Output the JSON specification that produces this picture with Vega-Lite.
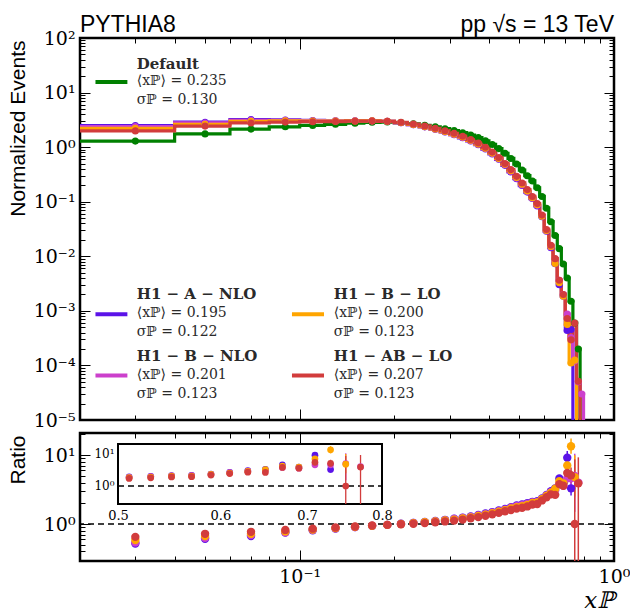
{
"$schema": "https://vega.github.io/schema/vega-lite/v6.json",
"padding": {"left": 5, "top": 12, "right": 5, "bottom": 2},
"spacing": 13,
"bounds": "flush",
"config": {
  "view": {"stroke": "black", "strokeWidth": 2.5},
  "axis": {"grid": false, "domain": false, "tickColor": "black", "tickWidth": 1, "labelFont": "DejaVu Serif", "labelFontSize": 19, "labelColor": "black", "labelFlush": false, "labelOverlap": false, "titleFont": "Liberation Sans", "titleFontSize": 21, "titleFontWeight": "normal", "titleColor": "black", "zindex": 1}
},
"datasets": {
"main": [
{"s":"Default","lo":0.02,"c":0.03,"v":1.29},{"s":"Default","lo":0.04,"c":0.05,"v":1.75},{"s":"Default","lo":0.06,"c":0.07,"v":2.14},{"s":"Default","lo":0.08,"c":0.09,"v":2.36},{"s":"Default","lo":0.10,"c":0.11,"v":2.50},{"s":"Default","lo":0.12,"c":0.13,"v":2.62},{"s":"Default","lo":0.14,"c":0.15,"v":2.75},{"s":"Default","lo":0.16,"c":0.17,"v":2.85},{"s":"Default","lo":0.18,"c":0.19,"v":2.88},{"s":"Default","lo":0.20,"c":0.21,"v":2.82},
{"s":"Default","lo":0.22,"c":0.23,"v":2.68},{"s":"Default","lo":0.24,"c":0.25,"v":2.52},{"s":"Default","lo":0.26,"c":0.27,"v":2.35},{"s":"Default","lo":0.28,"c":0.29,"v":2.18},{"s":"Default","lo":0.30,"c":0.31,"v":2.01},{"s":"Default","lo":0.32,"c":0.33,"v":1.84},{"s":"Default","lo":0.34,"c":0.35,"v":1.67},{"s":"Default","lo":0.36,"c":0.37,"v":1.50},{"s":"Default","lo":0.38,"c":0.39,"v":1.31},{"s":"Default","lo":0.40,"c":0.41,"v":1.12},
{"s":"Default","lo":0.42,"c":0.43,"v":0.94},{"s":"Default","lo":0.44,"c":0.45,"v":0.77},{"s":"Default","lo":0.46,"c":0.47,"v":0.62},{"s":"Default","lo":0.48,"c":0.49,"v":0.49},{"s":"Default","lo":0.50,"c":0.51,"v":0.38},{"s":"Default","lo":0.52,"c":0.53,"v":0.30},{"s":"Default","lo":0.54,"c":0.55,"v":0.24},{"s":"Default","lo":0.56,"c":0.57,"v":0.18},{"s":"Default","lo":0.58,"c":0.59,"v":0.125},{"s":"Default","lo":0.60,"c":0.61,"v":0.076},
{"s":"Default","lo":0.62,"c":0.63,"v":0.043},{"s":"Default","lo":0.64,"c":0.65,"v":0.024},{"s":"Default","lo":0.66,"c":0.67,"v":0.0138},{"s":"Default","lo":0.68,"c":0.69,"v":0.0072},{"s":"Default","lo":0.70,"c":0.71,"v":0.0040},{"s":"Default","lo":0.72,"c":0.73,"v":0.0015},{"s":"Default","lo":0.74,"c":0.75,"v":0.0006},{"s":"Default","lo":0.76,"c":0.77,"v":0.0002},{"s":"Default","lo":0.78,"c":null,"v":0.00001},

{"s":"H1-A-NLO","lo":0.02,"c":0.03,"v":2.481},{"s":"H1-A-NLO","lo":0.04,"c":0.05,"v":2.869},{"s":"H1-A-NLO","lo":0.06,"c":0.07,"v":3.194},{"s":"H1-A-NLO","lo":0.08,"c":0.09,"v":3.147},{"s":"H1-A-NLO","lo":0.10,"c":0.11,"v":3.086},{"s":"H1-A-NLO","lo":0.12,"c":0.13,"v":3.047},{"s":"H1-A-NLO","lo":0.14,"c":0.15,"v":3.056},{"s":"H1-A-NLO","lo":0.16,"c":0.17,"v":3.032},{"s":"H1-A-NLO","lo":0.18,"c":0.19,"v":2.969},{"s":"H1-A-NLO","lo":0.20,"c":0.21,"v":2.792},
{"s":"H1-A-NLO","lo":0.22,"c":0.23,"v":2.577},{"s":"H1-A-NLO","lo":0.24,"c":0.25,"v":2.355},{"s":"H1-A-NLO","lo":0.26,"c":0.27,"v":2.117},{"s":"H1-A-NLO","lo":0.28,"c":0.29,"v":1.896},{"s":"H1-A-NLO","lo":0.30,"c":0.31,"v":1.689},{"s":"H1-A-NLO","lo":0.32,"c":0.33,"v":1.484},{"s":"H1-A-NLO","lo":0.34,"c":0.35,"v":1.295},{"s":"H1-A-NLO","lo":0.36,"c":0.37,"v":1.111},{"s":"H1-A-NLO","lo":0.38,"c":0.39,"v":0.9225},{"s":"H1-A-NLO","lo":0.40,"c":0.41,"v":0.7517},
{"s":"H1-A-NLO","lo":0.42,"c":0.43,"v":0.5987},{"s":"H1-A-NLO","lo":0.44,"c":0.45,"v":0.4639},{"s":"H1-A-NLO","lo":0.46,"c":0.47,"v":0.3523},{"s":"H1-A-NLO","lo":0.48,"c":0.49,"v":0.2634},{"s":"H1-A-NLO","lo":0.50,"c":0.51,"v":0.1979},{"s":"H1-A-NLO","lo":0.52,"c":0.53,"v":0.15},{"s":"H1-A-NLO","lo":0.54,"c":0.55,"v":0.1143},{"s":"H1-A-NLO","lo":0.56,"c":0.57,"v":0.0837},{"s":"H1-A-NLO","lo":0.58,"c":0.59,"v":0.0532},{"s":"H1-A-NLO","lo":0.60,"c":0.61,"v":0.02868},
{"s":"H1-A-NLO","lo":0.62,"c":0.63,"v":0.01433},{"s":"H1-A-NLO","lo":0.64,"c":0.65,"v":0.007273},{"s":"H1-A-NLO","lo":0.66,"c":0.67,"v":0.003},{"s":"H1-A-NLO","lo":0.68,"c":0.69,"v":0.001846},{"s":"H1-A-NLO","lo":0.70,"c":0.71,"v":0.000435},{"s":"H1-A-NLO","lo":0.72,"c":0.73,"v":0.000455},{"s":"H1-A-NLO","lo":0.74,"c":null,"v":0.00001},

{"s":"H1-B-NLO","lo":0.02,"c":0.03,"v":2.389},{"s":"H1-B-NLO","lo":0.04,"c":0.05,"v":2.778},{"s":"H1-B-NLO","lo":0.06,"c":0.07,"v":3.101},{"s":"H1-B-NLO","lo":0.08,"c":0.09,"v":3.105},{"s":"H1-B-NLO","lo":0.10,"c":0.11,"v":3.049},{"s":"H1-B-NLO","lo":0.12,"c":0.13,"v":3.029},{"s":"H1-B-NLO","lo":0.14,"c":0.15,"v":3.039},{"s":"H1-B-NLO","lo":0.16,"c":0.17,"v":3.032},{"s":"H1-B-NLO","lo":0.18,"c":0.19,"v":2.969},{"s":"H1-B-NLO","lo":0.20,"c":0.21,"v":2.806},
{"s":"H1-B-NLO","lo":0.22,"c":0.23,"v":2.589},{"s":"H1-B-NLO","lo":0.24,"c":0.25,"v":2.366},{"s":"H1-B-NLO","lo":0.26,"c":0.27,"v":2.136},{"s":"H1-B-NLO","lo":0.28,"c":0.29,"v":1.912},{"s":"H1-B-NLO","lo":0.30,"c":0.31,"v":1.703},{"s":"H1-B-NLO","lo":0.32,"c":0.33,"v":1.508},{"s":"H1-B-NLO","lo":0.34,"c":0.35,"v":1.315},{"s":"H1-B-NLO","lo":0.36,"c":0.37,"v":1.128},{"s":"H1-B-NLO","lo":0.38,"c":0.39,"v":0.9424},{"s":"H1-B-NLO","lo":0.40,"c":0.41,"v":0.7671},
{"s":"H1-B-NLO","lo":0.42,"c":0.43,"v":0.6104},{"s":"H1-B-NLO","lo":0.44,"c":0.45,"v":0.4753},{"s":"H1-B-NLO","lo":0.46,"c":0.47,"v":0.3605},{"s":"H1-B-NLO","lo":0.48,"c":0.49,"v":0.2707},{"s":"H1-B-NLO","lo":0.50,"c":0.51,"v":0.2032},{"s":"H1-B-NLO","lo":0.52,"c":0.53,"v":0.1538},{"s":"H1-B-NLO","lo":0.54,"c":0.55,"v":0.1165},{"s":"H1-B-NLO","lo":0.56,"c":0.57,"v":0.0857},{"s":"H1-B-NLO","lo":0.58,"c":0.59,"v":0.05435},{"s":"H1-B-NLO","lo":0.60,"c":0.61,"v":0.02923},
{"s":"H1-B-NLO","lo":0.62,"c":0.63,"v":0.01483},{"s":"H1-B-NLO","lo":0.64,"c":0.65,"v":0.007742},{"s":"H1-B-NLO","lo":0.66,"c":0.67,"v":0.003632},{"s":"H1-B-NLO","lo":0.68,"c":0.69,"v":0.002},{"s":"H1-B-NLO","lo":0.70,"c":0.71,"v":0.00087},{"s":"H1-B-NLO","lo":0.72,"c":0.73,"v":0.000326},{"s":"H1-B-NLO","lo":0.74,"c":0.75,"v":0.00012},{"s":"H1-B-NLO","lo":0.76,"c":0.77,"v":0.00005},{"s":"H1-B-NLO","lo":0.78,"c":0.79,"v":0.00003},{"s":"H1-B-NLO","lo":0.80,"c":null,"v":0.00001},

{"s":"H1-B-LO","lo":0.02,"c":0.03,"v":2.205},{"s":"H1-B-LO","lo":0.04,"c":0.05,"v":2.612},{"s":"H1-B-LO","lo":0.06,"c":0.07,"v":2.972},{"s":"H1-B-LO","lo":0.08,"c":0.09,"v":3.026},{"s":"H1-B-LO","lo":0.10,"c":0.11,"v":3.012},{"s":"H1-B-LO","lo":0.12,"c":0.13,"v":3.011},{"s":"H1-B-LO","lo":0.14,"c":0.15,"v":3.022},{"s":"H1-B-LO","lo":0.16,"c":0.17,"v":3.032},{"s":"H1-B-LO","lo":0.18,"c":0.19,"v":2.969},{"s":"H1-B-LO","lo":0.20,"c":0.21,"v":2.82},
{"s":"H1-B-LO","lo":0.22,"c":0.23,"v":2.602},{"s":"H1-B-LO","lo":0.24,"c":0.25,"v":2.377},{"s":"H1-B-LO","lo":0.26,"c":0.27,"v":2.156},{"s":"H1-B-LO","lo":0.28,"c":0.29,"v":1.929},{"s":"H1-B-LO","lo":0.30,"c":0.31,"v":1.733},{"s":"H1-B-LO","lo":0.32,"c":0.33,"v":1.533},{"s":"H1-B-LO","lo":0.34,"c":0.35,"v":1.336},{"s":"H1-B-LO","lo":0.36,"c":0.37,"v":1.145},{"s":"H1-B-LO","lo":0.38,"c":0.39,"v":0.9562},{"s":"H1-B-LO","lo":0.40,"c":0.41,"v":0.7778},
{"s":"H1-B-LO","lo":0.42,"c":0.43,"v":0.6225},{"s":"H1-B-LO","lo":0.44,"c":0.45,"v":0.4843},{"s":"H1-B-LO","lo":0.46,"c":0.47,"v":0.369},{"s":"H1-B-LO","lo":0.48,"c":0.49,"v":0.2784},{"s":"H1-B-LO","lo":0.50,"c":0.51,"v":0.2088},{"s":"H1-B-LO","lo":0.52,"c":0.53,"v":0.1579},{"s":"H1-B-LO","lo":0.54,"c":0.55,"v":0.1188},{"s":"H1-B-LO","lo":0.56,"c":0.57,"v":0.0878},{"s":"H1-B-LO","lo":0.58,"c":0.59,"v":0.05435},{"s":"H1-B-LO","lo":0.60,"c":0.61,"v":0.0298},
{"s":"H1-B-LO","lo":0.62,"c":0.63,"v":0.01509},{"s":"H1-B-LO","lo":0.64,"c":0.65,"v":0.007385},{"s":"H1-B-LO","lo":0.66,"c":0.67,"v":0.003286},{"s":"H1-B-LO","lo":0.68,"c":0.69,"v":0.001846},{"s":"H1-B-LO","lo":0.70,"c":0.71,"v":0.000563},{"s":"H1-B-LO","lo":0.72,"c":0.73,"v":0.000111},{"s":"H1-B-LO","lo":0.74,"c":0.75,"v":0.000125},{"s":"H1-B-LO","lo":0.76,"c":null,"v":0.00001},

{"s":"H1-AB-LO","lo":0.02,"c":0.03,"v":1.985},{"s":"H1-AB-LO","lo":0.04,"c":0.05,"v":2.431},{"s":"H1-AB-LO","lo":0.06,"c":0.07,"v":2.779},{"s":"H1-AB-LO","lo":0.08,"c":0.09,"v":2.878},{"s":"H1-AB-LO","lo":0.10,"c":0.11,"v":2.924},{"s":"H1-AB-LO","lo":0.12,"c":0.13,"v":2.944},{"s":"H1-AB-LO","lo":0.14,"c":0.15,"v":2.989},{"s":"H1-AB-LO","lo":0.16,"c":0.17,"v":3.0},{"s":"H1-AB-LO","lo":0.18,"c":0.19,"v":2.969},{"s":"H1-AB-LO","lo":0.20,"c":0.21,"v":2.848},
{"s":"H1-AB-LO","lo":0.22,"c":0.23,"v":2.653},{"s":"H1-AB-LO","lo":0.24,"c":0.25,"v":2.447},{"s":"H1-AB-LO","lo":0.26,"c":0.27,"v":2.217},{"s":"H1-AB-LO","lo":0.28,"c":0.29,"v":2.0},{"s":"H1-AB-LO","lo":0.30,"c":0.31,"v":1.795},{"s":"H1-AB-LO","lo":0.32,"c":0.33,"v":1.586},{"s":"H1-AB-LO","lo":0.34,"c":0.35,"v":1.38},{"s":"H1-AB-LO","lo":0.36,"c":0.37,"v":1.19},{"s":"H1-AB-LO","lo":0.38,"c":0.39,"v":0.9924},{"s":"H1-AB-LO","lo":0.40,"c":0.41,"v":0.8116},
{"s":"H1-AB-LO","lo":0.42,"c":0.43,"v":0.6483},{"s":"H1-AB-LO","lo":0.44,"c":0.45,"v":0.5033},{"s":"H1-AB-LO","lo":0.46,"c":0.47,"v":0.3875},{"s":"H1-AB-LO","lo":0.48,"c":0.49,"v":0.2917},{"s":"H1-AB-LO","lo":0.50,"c":0.51,"v":0.2209},{"s":"H1-AB-LO","lo":0.52,"c":0.53,"v":0.1667},{"s":"H1-AB-LO","lo":0.54,"c":0.55,"v":0.125},{"s":"H1-AB-LO","lo":0.56,"c":0.57,"v":0.0923},{"s":"H1-AB-LO","lo":0.58,"c":0.59,"v":0.05682},{"s":"H1-AB-LO","lo":0.60,"c":0.61,"v":0.03102},
{"s":"H1-AB-LO","lo":0.62,"c":0.63,"v":0.01593},{"s":"H1-AB-LO","lo":0.64,"c":0.65,"v":0.009057},{"s":"H1-AB-LO","lo":0.66,"c":0.67,"v":0.003632},{"s":"H1-AB-LO","lo":0.68,"c":0.69,"v":0.002},{"s":"H1-AB-LO","lo":0.70,"c":0.71,"v":0.000727},{"s":"H1-AB-LO","lo":0.72,"c":0.73,"v":0.000294},{"s":"H1-AB-LO","lo":0.74,"c":0.75,"v":0.0006},{"s":"H1-AB-LO","lo":0.76,"c":0.77,"v":0.0000513},{"s":"H1-AB-LO","lo":0.78,"c":null,"v":0.00001}
],
"ratio": [
{"s":"H1-A-NLO","c":0.03,"r":0.52},{"s":"H1-A-NLO","c":0.05,"r":0.61},{"s":"H1-A-NLO","c":0.07,"r":0.67},{"s":"H1-A-NLO","c":0.09,"r":0.75},{"s":"H1-A-NLO","c":0.11,"r":0.81},{"s":"H1-A-NLO","c":0.13,"r":0.86},{"s":"H1-A-NLO","c":0.15,"r":0.90},{"s":"H1-A-NLO","c":0.17,"r":0.94},{"s":"H1-A-NLO","c":0.19,"r":0.97},{"s":"H1-A-NLO","c":0.21,"r":1.01},
{"s":"H1-A-NLO","c":0.23,"r":1.04},{"s":"H1-A-NLO","c":0.25,"r":1.07},{"s":"H1-A-NLO","c":0.27,"r":1.11},{"s":"H1-A-NLO","c":0.29,"r":1.15},{"s":"H1-A-NLO","c":0.31,"r":1.19},{"s":"H1-A-NLO","c":0.33,"r":1.24},{"s":"H1-A-NLO","c":0.35,"r":1.29},{"s":"H1-A-NLO","c":0.37,"r":1.35},{"s":"H1-A-NLO","c":0.39,"r":1.42},{"s":"H1-A-NLO","c":0.41,"r":1.49},
{"s":"H1-A-NLO","c":0.43,"r":1.57},{"s":"H1-A-NLO","c":0.45,"r":1.66},{"s":"H1-A-NLO","c":0.47,"r":1.76},{"s":"H1-A-NLO","c":0.49,"r":1.86},{"s":"H1-A-NLO","c":0.51,"r":1.92},{"s":"H1-A-NLO","c":0.53,"r":2.0},{"s":"H1-A-NLO","c":0.55,"r":2.1},{"s":"H1-A-NLO","c":0.57,"r":2.15},{"s":"H1-A-NLO","c":0.59,"r":2.35},{"s":"H1-A-NLO","c":0.61,"r":2.65},
{"s":"H1-A-NLO","c":0.63,"r":3.0},{"s":"H1-A-NLO","c":0.65,"r":3.3},{"s":"H1-A-NLO","c":0.67,"r":4.6},{"s":"H1-A-NLO","c":0.69,"r":3.9},{"s":"H1-A-NLO","c":0.71,"r":9.2},{"s":"H1-A-NLO","c":0.73,"r":3.3},

{"s":"H1-B-NLO","c":0.03,"r":0.54},{"s":"H1-B-NLO","c":0.05,"r":0.63},{"s":"H1-B-NLO","c":0.07,"r":0.69},{"s":"H1-B-NLO","c":0.09,"r":0.76},{"s":"H1-B-NLO","c":0.11,"r":0.82},{"s":"H1-B-NLO","c":0.13,"r":0.865},{"s":"H1-B-NLO","c":0.15,"r":0.905},{"s":"H1-B-NLO","c":0.17,"r":0.94},{"s":"H1-B-NLO","c":0.19,"r":0.97},{"s":"H1-B-NLO","c":0.21,"r":1.005},
{"s":"H1-B-NLO","c":0.23,"r":1.035},{"s":"H1-B-NLO","c":0.25,"r":1.065},{"s":"H1-B-NLO","c":0.27,"r":1.10},{"s":"H1-B-NLO","c":0.29,"r":1.14},{"s":"H1-B-NLO","c":0.31,"r":1.18},{"s":"H1-B-NLO","c":0.33,"r":1.22},{"s":"H1-B-NLO","c":0.35,"r":1.27},{"s":"H1-B-NLO","c":0.37,"r":1.33},{"s":"H1-B-NLO","c":0.39,"r":1.39},{"s":"H1-B-NLO","c":0.41,"r":1.46},
{"s":"H1-B-NLO","c":0.43,"r":1.54},{"s":"H1-B-NLO","c":0.45,"r":1.62},{"s":"H1-B-NLO","c":0.47,"r":1.72},{"s":"H1-B-NLO","c":0.49,"r":1.81},{"s":"H1-B-NLO","c":0.51,"r":1.87},{"s":"H1-B-NLO","c":0.53,"r":1.95},{"s":"H1-B-NLO","c":0.55,"r":2.06},{"s":"H1-B-NLO","c":0.57,"r":2.1},{"s":"H1-B-NLO","c":0.59,"r":2.3},{"s":"H1-B-NLO","c":0.61,"r":2.6},
{"s":"H1-B-NLO","c":0.63,"r":2.9},{"s":"H1-B-NLO","c":0.65,"r":3.1},{"s":"H1-B-NLO","c":0.67,"r":3.8},{"s":"H1-B-NLO","c":0.69,"r":3.6},{"s":"H1-B-NLO","c":0.71,"r":4.6},{"s":"H1-B-NLO","c":0.73,"r":4.6},{"s":"H1-B-NLO","c":0.75,"r":5.0},{"s":"H1-B-NLO","c":0.77,"r":4.0},

{"s":"H1-B-LO","c":0.03,"r":0.585},{"s":"H1-B-LO","c":0.05,"r":0.67},{"s":"H1-B-LO","c":0.07,"r":0.72},{"s":"H1-B-LO","c":0.09,"r":0.78},{"s":"H1-B-LO","c":0.11,"r":0.83},{"s":"H1-B-LO","c":0.13,"r":0.87},{"s":"H1-B-LO","c":0.15,"r":0.91},{"s":"H1-B-LO","c":0.17,"r":0.94},{"s":"H1-B-LO","c":0.19,"r":0.97},{"s":"H1-B-LO","c":0.21,"r":1.0},
{"s":"H1-B-LO","c":0.23,"r":1.03},{"s":"H1-B-LO","c":0.25,"r":1.06},{"s":"H1-B-LO","c":0.27,"r":1.09},{"s":"H1-B-LO","c":0.29,"r":1.13},{"s":"H1-B-LO","c":0.31,"r":1.16},{"s":"H1-B-LO","c":0.33,"r":1.20},{"s":"H1-B-LO","c":0.35,"r":1.25},{"s":"H1-B-LO","c":0.37,"r":1.31},{"s":"H1-B-LO","c":0.39,"r":1.37},{"s":"H1-B-LO","c":0.41,"r":1.44},
{"s":"H1-B-LO","c":0.43,"r":1.51},{"s":"H1-B-LO","c":0.45,"r":1.59},{"s":"H1-B-LO","c":0.47,"r":1.68},{"s":"H1-B-LO","c":0.49,"r":1.76},{"s":"H1-B-LO","c":0.51,"r":1.82},{"s":"H1-B-LO","c":0.53,"r":1.9},{"s":"H1-B-LO","c":0.55,"r":2.02},{"s":"H1-B-LO","c":0.57,"r":2.05},{"s":"H1-B-LO","c":0.59,"r":2.3},{"s":"H1-B-LO","c":0.61,"r":2.55},
{"s":"H1-B-LO","c":0.63,"r":2.85},{"s":"H1-B-LO","c":0.65,"r":3.25},{"s":"H1-B-LO","c":0.67,"r":4.2},{"s":"H1-B-LO","c":0.69,"r":3.9},{"s":"H1-B-LO","c":0.71,"r":7.1},{"s":"H1-B-LO","c":0.73,"r":13.5},{"s":"H1-B-LO","c":0.75,"r":4.8},

{"s":"H1-AB-LO","c":0.03,"r":0.65},{"s":"H1-AB-LO","c":0.05,"r":0.72},{"s":"H1-AB-LO","c":0.07,"r":0.77},{"s":"H1-AB-LO","c":0.09,"r":0.82},{"s":"H1-AB-LO","c":0.11,"r":0.855},{"s":"H1-AB-LO","c":0.13,"r":0.89},{"s":"H1-AB-LO","c":0.15,"r":0.92},{"s":"H1-AB-LO","c":0.17,"r":0.95},{"s":"H1-AB-LO","c":0.19,"r":0.97},{"s":"H1-AB-LO","c":0.21,"r":0.99},
{"s":"H1-AB-LO","c":0.23,"r":1.01},{"s":"H1-AB-LO","c":0.25,"r":1.03},{"s":"H1-AB-LO","c":0.27,"r":1.06},{"s":"H1-AB-LO","c":0.29,"r":1.09},{"s":"H1-AB-LO","c":0.31,"r":1.12},{"s":"H1-AB-LO","c":0.33,"r":1.16},{"s":"H1-AB-LO","c":0.35,"r":1.21},{"s":"H1-AB-LO","c":0.37,"r":1.26},{"s":"H1-AB-LO","c":0.39,"r":1.32},{"s":"H1-AB-LO","c":0.41,"r":1.38},
{"s":"H1-AB-LO","c":0.43,"r":1.45},{"s":"H1-AB-LO","c":0.45,"r":1.53},{"s":"H1-AB-LO","c":0.47,"r":1.60},{"s":"H1-AB-LO","c":0.49,"r":1.68},{"s":"H1-AB-LO","c":0.51,"r":1.72},{"s":"H1-AB-LO","c":0.53,"r":1.80},{"s":"H1-AB-LO","c":0.55,"r":1.92},{"s":"H1-AB-LO","c":0.57,"r":1.95},{"s":"H1-AB-LO","c":0.59,"r":2.2},{"s":"H1-AB-LO","c":0.61,"r":2.45},
{"s":"H1-AB-LO","c":0.63,"r":2.7},{"s":"H1-AB-LO","c":0.65,"r":2.65},{"s":"H1-AB-LO","c":0.67,"r":3.8},{"s":"H1-AB-LO","c":0.69,"r":3.6},{"s":"H1-AB-LO","c":0.71,"r":5.5},{"s":"H1-AB-LO","c":0.73,"r":5.1},{"s":"H1-AB-LO","c":0.75,"r":1.0},{"s":"H1-AB-LO","c":0.77,"r":3.9}
],
"rerr": [
{"s":"H1-A-NLO","c":0.67,"lo":4.1,"hi":5.1},{"s":"H1-A-NLO","c":0.69,"lo":3.5,"hi":4.3},{"s":"H1-A-NLO","c":0.71,"lo":7.0,"hi":11.5},{"s":"H1-A-NLO","c":0.73,"lo":2.6,"hi":4.4},
{"s":"H1-B-NLO","c":0.71,"lo":3.8,"hi":5.6},{"s":"H1-B-NLO","c":0.73,"lo":3.6,"hi":6.0},{"s":"H1-B-NLO","c":0.75,"lo":1.5,"hi":10.5},
{"s":"H1-B-LO","c":0.71,"lo":6.0,"hi":8.5},{"s":"H1-B-LO","c":0.73,"lo":10.5,"hi":17.5},{"s":"H1-B-LO","c":0.75,"lo":2.5,"hi":10.0},
{"s":"H1-AB-LO","c":0.71,"lo":4.6,"hi":6.6},{"s":"H1-AB-LO","c":0.73,"lo":4.0,"hi":6.6},{"s":"H1-AB-LO","c":0.75,"lo":0.05,"hi":8.7},{"s":"H1-AB-LO","c":0.77,"lo":0.05,"hi":9.3}
]
},
"vconcat": [
{
  "width": 534, "height": 382,
  "resolve": {"axis": {"x": "independent", "y": "independent"}},
  "layer": [
    {
      "data": {"name": "main"},
      "mark": {"type": "line", "interpolate": "step-after", "strokeWidth": 3.2},
      "encoding": {
        "x": {"field": "lo", "type": "quantitative", "scale": {"type": "log", "domain": [0.02, 1], "nice": false},
              "axis": {"orient": "bottom", "values": [0.02,0.03,0.04,0.05,0.06,0.07,0.08,0.09,0.1,0.2,0.3,0.4,0.5,0.6,0.7,0.8,0.9,1], "labels": false, "title": null,
                       "tickSize": {"condition": {"test": "abs(log(datum.value)/LN10-round(log(datum.value)/LN10))<0.000001", "value": -11}, "value": -5}}},
        "y": {"field": "v", "type": "quantitative", "scale": {"type": "log", "domain": [0.00001, 100], "nice": false},
              "axis": {"orient": "left", "values": [0.00001,0.00002,0.00003,0.00004,0.00005,0.00006,0.00007,0.00008,0.00009,0.0001,0.0002,0.0003,0.0004,0.0005,0.0006,0.0007,0.0008,0.0009,0.001,0.002,0.003,0.004,0.005,0.006,0.007,0.008,0.009,0.01,0.02,0.03,0.04,0.05,0.06,0.07,0.08,0.09,0.1,0.2,0.3,0.4,0.5,0.6,0.7,0.8,0.9,1,2,3,4,5,6,7,8,9,10,20,30,40,50,60,70,80,90,100],
                       "tickSize": {"condition": {"test": "abs(log(datum.value)/LN10-round(log(datum.value)/LN10))<0.000001", "value": -10}, "value": -5},
                       "labelExpr": "abs(log(datum.value)/LN10-round(log(datum.value)/LN10))<0.000001 ? '10' + replace(replace(replace(replace(replace(replace(replace('' + round(log(datum.value)/LN10), '-', '⁻'), '0', '⁰'), '1', '¹'), '2', '²'), '3', '³'), '4', '⁴'), '5', '⁵') : ''",
                       "labelPadding": 15,
                       "title": "Normalized Events", "titleX": -52, "titleY": 2, "titleAlign": "right", "titleBaseline": "bottom", "titleAngle": 270}},
        "color": {"field": "s", "type": "nominal", "scale": {"domain": ["Default","H1-A-NLO","H1-B-NLO","H1-B-LO","H1-AB-LO"], "range": ["#008000","#5b13e8","#cc40cc","#ffa500","#d23c3c"]}, "legend": null}
      }
    },
    {
      "data": {"name": "main"},
      "transform": [{"filter": "datum.c != null"}],
      "mark": {"type": "circle", "size": 50, "opacity": 1},
      "encoding": {
        "x": {"field": "c", "type": "quantitative", "scale": {"type": "log", "domain": [0.02, 1], "nice": false},
              "axis": {"orient": "top", "values": [0.02,0.03,0.04,0.05,0.06,0.07,0.08,0.09,0.1,0.2,0.3,0.4,0.5,0.6,0.7,0.8,0.9,1], "labels": false, "title": null,
                       "tickSize": {"condition": {"test": "abs(log(datum.value)/LN10-round(log(datum.value)/LN10))<0.000001", "value": -11}, "value": -5}}},
        "y": {"field": "v", "type": "quantitative", "scale": {"type": "log", "domain": [0.00001, 100], "nice": false},
              "axis": {"orient": "right", "values": [0.00001,0.00002,0.00003,0.00004,0.00005,0.00006,0.00007,0.00008,0.00009,0.0001,0.0002,0.0003,0.0004,0.0005,0.0006,0.0007,0.0008,0.0009,0.001,0.002,0.003,0.004,0.005,0.006,0.007,0.008,0.009,0.01,0.02,0.03,0.04,0.05,0.06,0.07,0.08,0.09,0.1,0.2,0.3,0.4,0.5,0.6,0.7,0.8,0.9,1,2,3,4,5,6,7,8,9,10,20,30,40,50,60,70,80,90,100],
                       "tickSize": {"condition": {"test": "abs(log(datum.value)/LN10-round(log(datum.value)/LN10))<0.000001", "value": -10}, "value": -5},
                       "labels": false, "title": null}},
        "color": {"field": "s", "type": "nominal", "scale": {"domain": ["Default","H1-A-NLO","H1-B-NLO","H1-B-LO","H1-AB-LO"], "range": ["#008000","#5b13e8","#cc40cc","#ffa500","#d23c3c"]}, "legend": null}
      }
    },
    {"data": {"values": [{}]}, "mark": {"type": "rule", "strokeWidth": 4, "color": "#008000"},
     "encoding": {"x": {"datum": 0.0224, "type": "quantitative", "axis": null}, "x2": {"datum": 0.0283}, "y": {"datum": 15.6, "type": "quantitative", "axis": null}}},
    {"data": {"values": [{}]}, "mark": {"type": "text", "align": "left", "baseline": "middle", "font": "DejaVu Serif", "fontSize": 15, "fontWeight": "bold", "color": "#2a2a2a"},
     "encoding": {"x": {"datum": 0.0303, "type": "quantitative", "axis": null}, "y": {"datum": 33.3, "type": "quantitative", "axis": null}, "text": {"value": "Default"}}},
    {"data": {"values": [{}]}, "mark": {"type": "text", "align": "left", "baseline": "top", "font": "DejaVu Serif", "fontSize": 14, "lineHeight": 19, "color": "#2a2a2a"},
     "encoding": {"x": {"datum": 0.0303, "type": "quantitative", "axis": null}, "y": {"datum": 21.5, "type": "quantitative", "axis": null}, "text": {"value": ["⟨xℙ⟩ = 0.235", "σℙ = 0.130"]}}},

    {"data": {"values": [{}]}, "mark": {"type": "rule", "strokeWidth": 4, "color": "#5b13e8"},
     "encoding": {"x": {"datum": 0.0224, "type": "quantitative", "axis": null}, "x2": {"datum": 0.0283}, "y": {"datum": 0.000863, "type": "quantitative", "axis": null}}},
    {"data": {"values": [{}]}, "mark": {"type": "text", "align": "left", "baseline": "middle", "font": "DejaVu Serif", "fontSize": 15, "fontWeight": "bold", "color": "#2a2a2a"},
     "encoding": {"x": {"datum": 0.0303, "type": "quantitative", "axis": null}, "y": {"datum": 0.00201, "type": "quantitative", "axis": null}, "text": {"value": "H1 − A − NLO"}}},
    {"data": {"values": [{}]}, "mark": {"type": "text", "align": "left", "baseline": "top", "font": "DejaVu Serif", "fontSize": 14, "lineHeight": 19, "color": "#2a2a2a"},
     "encoding": {"x": {"datum": 0.0303, "type": "quantitative", "axis": null}, "y": {"datum": 0.00124, "type": "quantitative", "axis": null}, "text": {"value": ["⟨xℙ⟩ = 0.195", "σℙ = 0.122"]}}},

    {"data": {"values": [{}]}, "mark": {"type": "rule", "strokeWidth": 4, "color": "#cc40cc"},
     "encoding": {"x": {"datum": 0.0224, "type": "quantitative", "axis": null}, "x2": {"datum": 0.0283}, "y": {"datum": 0.0000656, "type": "quantitative", "axis": null}}},
    {"data": {"values": [{}]}, "mark": {"type": "text", "align": "left", "baseline": "middle", "font": "DejaVu Serif", "fontSize": 15, "fontWeight": "bold", "color": "#2a2a2a"},
     "encoding": {"x": {"datum": 0.0303, "type": "quantitative", "axis": null}, "y": {"datum": 0.000152, "type": "quantitative", "axis": null}, "text": {"value": "H1 − B − NLO"}}},
    {"data": {"values": [{}]}, "mark": {"type": "text", "align": "left", "baseline": "top", "font": "DejaVu Serif", "fontSize": 14, "lineHeight": 19, "color": "#2a2a2a"},
     "encoding": {"x": {"datum": 0.0303, "type": "quantitative", "axis": null}, "y": {"datum": 0.0000905, "type": "quantitative", "axis": null}, "text": {"value": ["⟨xℙ⟩ = 0.201", "σℙ = 0.123"]}}},

    {"data": {"values": [{}]}, "mark": {"type": "rule", "strokeWidth": 4, "color": "#ffa500"},
     "encoding": {"x": {"datum": 0.0945, "type": "quantitative", "axis": null}, "x2": {"datum": 0.1195}, "y": {"datum": 0.000863, "type": "quantitative", "axis": null}}},
    {"data": {"values": [{}]}, "mark": {"type": "text", "align": "left", "baseline": "middle", "font": "DejaVu Serif", "fontSize": 15, "fontWeight": "bold", "color": "#2a2a2a"},
     "encoding": {"x": {"datum": 0.1283, "type": "quantitative", "axis": null}, "y": {"datum": 0.00201, "type": "quantitative", "axis": null}, "text": {"value": "H1 − B − LO"}}},
    {"data": {"values": [{}]}, "mark": {"type": "text", "align": "left", "baseline": "top", "font": "DejaVu Serif", "fontSize": 14, "lineHeight": 19, "color": "#2a2a2a"},
     "encoding": {"x": {"datum": 0.1283, "type": "quantitative", "axis": null}, "y": {"datum": 0.00124, "type": "quantitative", "axis": null}, "text": {"value": ["⟨xℙ⟩ = 0.200", "σℙ = 0.123"]}}},

    {"data": {"values": [{}]}, "mark": {"type": "rule", "strokeWidth": 4, "color": "#d23c3c"},
     "encoding": {"x": {"datum": 0.0945, "type": "quantitative", "axis": null}, "x2": {"datum": 0.1195}, "y": {"datum": 0.0000656, "type": "quantitative", "axis": null}}},
    {"data": {"values": [{}]}, "mark": {"type": "text", "align": "left", "baseline": "middle", "font": "DejaVu Serif", "fontSize": 15, "fontWeight": "bold", "color": "#2a2a2a"},
     "encoding": {"x": {"datum": 0.1283, "type": "quantitative", "axis": null}, "y": {"datum": 0.000152, "type": "quantitative", "axis": null}, "text": {"value": "H1 − AB − LO"}}},
    {"data": {"values": [{}]}, "mark": {"type": "text", "align": "left", "baseline": "top", "font": "DejaVu Serif", "fontSize": 14, "lineHeight": 19, "color": "#2a2a2a"},
     "encoding": {"x": {"datum": 0.1283, "type": "quantitative", "axis": null}, "y": {"datum": 0.0000905, "type": "quantitative", "axis": null}, "text": {"value": ["⟨xℙ⟩ = 0.207", "σℙ = 0.123"]}}},

    {"data": {"values": [{}]}, "mark": {"type": "text", "align": "left", "baseline": "alphabetic", "dy": -6, "font": "Liberation Sans", "fontSize": 23, "color": "black"},
     "encoding": {"x": {"datum": 0.02, "type": "quantitative", "axis": null}, "y": {"datum": 100, "type": "quantitative", "axis": null}, "text": {"value": "PYTHIA8"}}},
    {"data": {"values": [{}]}, "mark": {"type": "text", "align": "right", "baseline": "alphabetic", "dy": -6, "font": "Liberation Sans", "fontSize": 23, "color": "black"},
     "encoding": {"x": {"datum": 1, "type": "quantitative", "axis": null}, "y": {"datum": 100, "type": "quantitative", "axis": null}, "text": {"value": "pp √s = 13 TeV"}}}
  ]
},
{
  "width": 534, "height": 128,
  "resolve": {"scale": {"x": "independent", "y": "independent"}, "axis": {"x": "independent", "y": "independent"}},
  "layer": [
    {
      "resolve": {"axis": {"x": "independent", "y": "independent"}},
      "layer": [
        {"data": {"values": [{}]}, "mark": {"type": "rule", "strokeDash": [6, 4], "strokeWidth": 1.5, "color": "black"},
         "encoding": {"y": {"datum": 1, "type": "quantitative", "scale": {"type": "log", "domain": [0.29, 21], "nice": false}, "axis": null}}},
        {"data": {"name": "rerr"}, "mark": {"type": "rule", "strokeWidth": 1.5, "clip": true},
         "encoding": {
           "x": {"field": "c", "type": "quantitative", "scale": {"type": "log", "domain": [0.02, 1], "nice": false},
                 "axis": {"orient": "top", "values": [0.02,0.03,0.04,0.05,0.06,0.07,0.08,0.09,0.1,0.2,0.3,0.4,0.5,0.6,0.7,0.8,0.9,1], "labels": false, "title": null,
                          "tickSize": {"condition": {"test": "abs(log(datum.value)/LN10-round(log(datum.value)/LN10))<0.000001", "value": -11}, "value": -5}}},
           "y": {"field": "lo", "type": "quantitative", "scale": {"type": "log", "domain": [0.29, 21], "nice": false},
                 "axis": {"orient": "right", "values": [0.3,0.4,0.5,0.6,0.7,0.8,0.9,1,2,3,4,5,6,7,8,9,10,20], "labels": false, "title": null,
                          "tickSize": {"condition": {"test": "abs(log(datum.value)/LN10-round(log(datum.value)/LN10))<0.000001", "value": -10}, "value": -5}}},
           "y2": {"field": "hi"},
           "color": {"field": "s", "type": "nominal", "scale": {"domain": ["Default","H1-A-NLO","H1-B-NLO","H1-B-LO","H1-AB-LO"], "range": ["#008000","#5b13e8","#cc40cc","#ffa500","#d23c3c"]}, "legend": null}
         }},
        {"data": {"name": "ratio"}, "mark": {"type": "circle", "size": 70, "opacity": 1, "clip": true},
         "encoding": {
           "x": {"field": "c", "type": "quantitative", "scale": {"type": "log", "domain": [0.02, 1], "nice": false},
                 "axis": {"orient": "bottom", "values": [0.02,0.03,0.04,0.05,0.06,0.07,0.08,0.09,0.1,0.2,0.3,0.4,0.5,0.6,0.7,0.8,0.9,1],
                          "tickSize": {"condition": {"test": "abs(log(datum.value)/LN10-round(log(datum.value)/LN10))<0.000001", "value": -11}, "value": -5},
                          "labelExpr": "abs(log(datum.value)/LN10-round(log(datum.value)/LN10))<0.000001 ? '10' + replace(replace(replace(replace(replace(replace(replace('' + round(log(datum.value)/LN10), '-', '⁻'), '0', '⁰'), '1', '¹'), '2', '²'), '3', '³'), '4', '⁴'), '5', '⁵') : ''",
                          "labelPadding": 17,
                          "title": "xℙ", "titleAnchor": "end", "titleFont": "DejaVu Serif", "titleFontStyle": "italic", "titleFontSize": 23, "titlePadding": -3}},
           "y": {"field": "r", "type": "quantitative", "scale": {"type": "log", "domain": [0.29, 21], "nice": false},
                 "axis": {"orient": "left", "values": [0.3,0.4,0.5,0.6,0.7,0.8,0.9,1,2,3,4,5,6,7,8,9,10,20],
                          "tickSize": {"condition": {"test": "abs(log(datum.value)/LN10-round(log(datum.value)/LN10))<0.000001", "value": -10}, "value": -5},
                          "labelExpr": "abs(log(datum.value)/LN10-round(log(datum.value)/LN10))<0.000001 ? '10' + replace(replace(replace(replace(replace(replace(replace('' + round(log(datum.value)/LN10), '-', '⁻'), '0', '⁰'), '1', '¹'), '2', '²'), '3', '³'), '4', '⁴'), '5', '⁵') : ''",
                          "labelPadding": 15,
                          "title": "Ratio", "titleX": -52, "titleY": 2, "titleAlign": "right", "titleBaseline": "bottom", "titleAngle": 270}},
           "color": {"field": "s", "type": "nominal", "scale": {"domain": ["Default","H1-A-NLO","H1-B-NLO","H1-B-LO","H1-AB-LO"], "range": ["#008000","#5b13e8","#cc40cc","#ffa500","#d23c3c"]}, "legend": null}
         }}
      ]
    },
    {
      "resolve": {"axis": {"x": "independent", "y": "independent"}},
      "layer": [
        {"data": {"values": [{}]}, "mark": {"type": "rect", "fill": "white", "stroke": "black", "strokeWidth": 2},
         "encoding": {
           "x": {"datum": 0.5, "type": "quantitative", "scale": {"type": "log", "domain": [0.5, 0.8], "nice": false, "range": [38, 302]},
                 "axis": {"orient": "bottom", "offset": -57, "values": [0.5, 0.6, 0.7, 0.8], "format": ".1f", "tickSize": -8, "labelPadding": 13, "labelFontSize": 13, "title": null}},
           "x2": {"datum": 0.8},
           "y": {"datum": 0.274, "type": "quantitative", "scale": {"type": "log", "domain": [0.274, 20.5], "nice": false, "clamp": true, "range": [71, 11]},
                 "axis": {"orient": "left", "offset": -38, "values": [0.3,0.4,0.5,0.6,0.7,0.8,0.9,1,2,3,4,5,6,7,8,9,10,20],
                          "tickSize": {"condition": {"test": "abs(log(datum.value)/LN10-round(log(datum.value)/LN10))<0.000001", "value": -7}, "value": -3.5},
                          "labelExpr": "abs(log(datum.value)/LN10-round(log(datum.value)/LN10))<0.000001 ? '10' + replace(replace(replace(replace(replace(replace(replace('' + round(log(datum.value)/LN10), '-', '⁻'), '0', '⁰'), '1', '¹'), '2', '²'), '3', '³'), '4', '⁴'), '5', '⁵') : ''",
                          "labelFontSize": 12, "labelPadding": 11, "title": null}},
           "y2": {"datum": 20.5}
         }},
        {"data": {"values": [{}]}, "mark": {"type": "rule", "strokeDash": [6, 4], "strokeWidth": 1.5, "color": "black"},
         "encoding": {
           "x": {"datum": 0.5, "type": "quantitative", "scale": {"type": "log", "domain": [0.5, 0.8], "nice": false, "range": [38, 302]},
                 "axis": {"orient": "top", "offset": -11, "values": [0.6, 0.7], "tickSize": -8, "labels": false, "title": null}},
           "x2": {"datum": 0.8},
           "y": {"datum": 1, "type": "quantitative", "scale": {"type": "log", "domain": [0.274, 20.5], "nice": false, "clamp": true, "range": [71, 11]},
                 "axis": {"orient": "right", "offset": -232, "values": [0.3,0.4,0.5,0.6,0.7,0.8,0.9,1,2,3,4,5,6,7,8,9,10,20],
                          "tickSize": {"condition": {"test": "abs(log(datum.value)/LN10-round(log(datum.value)/LN10))<0.000001", "value": -7}, "value": -3.5},
                          "labels": false, "title": null}}
         }},
        {"data": {"name": "rerr"}, "transform": [{"filter": "datum.c >= 0.5"}], "mark": {"type": "rule", "strokeWidth": 1.3},
         "encoding": {
           "x": {"field": "c", "type": "quantitative", "scale": {"type": "log", "domain": [0.5, 0.8], "nice": false, "range": [38, 302]}, "axis": null},
           "y": {"field": "lo", "type": "quantitative", "scale": {"type": "log", "domain": [0.274, 20.5], "nice": false, "clamp": true, "range": [71, 11]}, "axis": null},
           "y2": {"field": "hi"},
           "color": {"field": "s", "type": "nominal", "scale": {"domain": ["Default","H1-A-NLO","H1-B-NLO","H1-B-LO","H1-AB-LO"], "range": ["#008000","#5b13e8","#cc40cc","#ffa500","#d23c3c"]}, "legend": null}
         }},
        {"data": {"name": "ratio"}, "transform": [{"filter": "datum.c >= 0.5"}], "mark": {"type": "circle", "size": 45, "opacity": 1},
         "encoding": {
           "x": {"field": "c", "type": "quantitative", "scale": {"type": "log", "domain": [0.5, 0.8], "nice": false, "range": [38, 302]}, "axis": null},
           "y": {"field": "r", "type": "quantitative", "scale": {"type": "log", "domain": [0.274, 20.5], "nice": false, "clamp": true, "range": [71, 11]}, "axis": null},
           "color": {"field": "s", "type": "nominal", "scale": {"domain": ["Default","H1-A-NLO","H1-B-NLO","H1-B-LO","H1-AB-LO"], "range": ["#008000","#5b13e8","#cc40cc","#ffa500","#d23c3c"]}, "legend": null}
         }}
      ]
    }
  ]
}
]
}
